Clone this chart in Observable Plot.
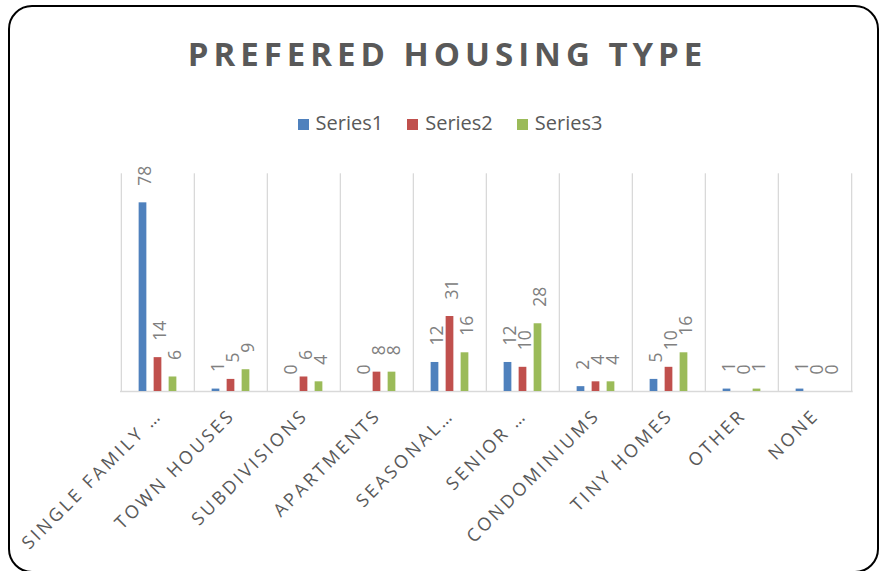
<!DOCTYPE html>
<html>
<head>
<meta charset="utf-8">
<script src="https://cdn.jsdelivr.net/npm/d3@7"></script>
<script src="https://cdn.jsdelivr.net/npm/@observablehq/plot@0.6"></script>
<style>
  html, body { margin: 0; padding: 0; background: #fff; }
  body { width: 887px; height: 571px; position: relative; overflow: hidden; font-family: "Open Sans", sans-serif; }
  #box { position: absolute; left: 8px; top: 5px; width: 871px; height: 568px; border: 2px solid #000; border-radius: 24px; box-sizing: border-box; }
  #title { position: absolute; left: 0; width: 887px; top: 37px; text-align: center; font-weight: 700; font-size: 33px; line-height: 33px; letter-spacing: 5px; padding-left: 8px; box-sizing: border-box; color: #595959; white-space: nowrap; }
  #legend { position: absolute; left: 0; width: 900px; top: 108px; display: flex; justify-content: center; font-size: 20px; line-height: 30px; color: #595959; }
  #legend .item { display: flex; align-items: center; margin: 0 12px; }
  #legend .sw { width: 11px; height: 11px; margin-right: 7px; margin-top: 2px; }
  #chart { position: absolute; left: 0; top: 150px; }
</style>
</head>
<body>
<div id="box"></div>
<div id="title">PREFERED HOUSING TYPE</div>
<div id="legend"></div>
<div id="chart"></div>
<script>
const categories = ["SINGLE FAMILY …", "TOWN HOUSES", "SUBDIVISIONS", "APARTMENTS", "SEASONAL…", "SENIOR …", "CONDOMINIUMS", "TINY HOMES", "OTHER", "NONE"];
const seriesNames = ["Series1", "Series2", "Series3"];
const seriesColors = ["#4F81BD", "#C0504D", "#9BBB59"];
const series1 = [78, 1, 0, 0, 12, 12, 2, 5, 1, 1];
const series2 = [14, 5, 6, 8, 31, 10, 4, 10, 0, 0];
const series3 = [6, 9, 4, 8, 16, 28, 4, 16, 1, 0];
const yDomain = [0, 90];

const seriesValues = [series1, series2, series3];
const data = [];
seriesNames.forEach((s, si) => categories.forEach((c, ci) => data.push({category: c, series: s, si, value: seriesValues[si][ci]})));

// legend
const legend = document.getElementById("legend");
seriesNames.forEach((s, i) => {
  const it = document.createElement("div");
  it.className = "item";
  it.innerHTML = `<span class="sw" style="background:${seriesColors[i]}"></span><span>${s}</span>`;
  legend.appendChild(it);
});

const W = 887, H = 421, ML = 120, MR = 34.3, MT = 23.3, MB = 180;
const step = (W - ML - MR) / categories.length;
const barW = 8, barStep = 15;

const marks = [];
// vertical category gridlines
marks.push(Plot.ruleX(categories, {x: d => d, dx: -step / 2, stroke: "#d9d9d9", strokeWidth: 1.3}));
marks.push(Plot.ruleX(categories.slice(-1), {x: d => d, dx: step / 2, stroke: "#d9d9d9", strokeWidth: 1.3}));
// baseline
marks.push(Plot.ruleY([0], {stroke: "#d9d9d9", strokeWidth: 1.5}));
seriesNames.forEach((s, si) => {
  const off = (si - 1) * barStep;
  const sub = data.filter(d => d.si === si);
  marks.push(Plot.barY(sub, {x: "category", y: "value", fill: seriesColors[si], insetLeft: (step - barW) / 2 + off, insetRight: (step - barW) / 2 - off}));
  marks.push(Plot.text(sub, {x: "category", y: "value", text: d => String(d.value), rotate: -90, textAnchor: "start", lineAnchor: "middle", dx: off + 2, dy: -17, fill: "#808080", fontSize: 17.5}));
});
marks.push(Plot.text(categories, {x: d => d, frameAnchor: "bottom", text: d => d, rotate: -45, textAnchor: "end", lineAnchor: "middle", dx: 1, dy: 21, fill: "#595959", fontSize: 18}));

const chart = Plot.plot({
  width: W, height: H,
  marginLeft: ML, marginRight: MR, marginTop: MT, marginBottom: MB,
  style: {fontFamily: "Open Sans, sans-serif", background: "transparent", overflow: "visible"},
  x: {domain: categories, padding: 0, axis: null},
  y: {domain: yDomain, axis: null},
  marks
});
d3.select(chart).selectAll("text")
  .filter(function() { return categories.includes(this.textContent); })
  .style("letter-spacing", "2.9px");
document.getElementById("chart").appendChild(chart);
</script>
</body>
</html>
